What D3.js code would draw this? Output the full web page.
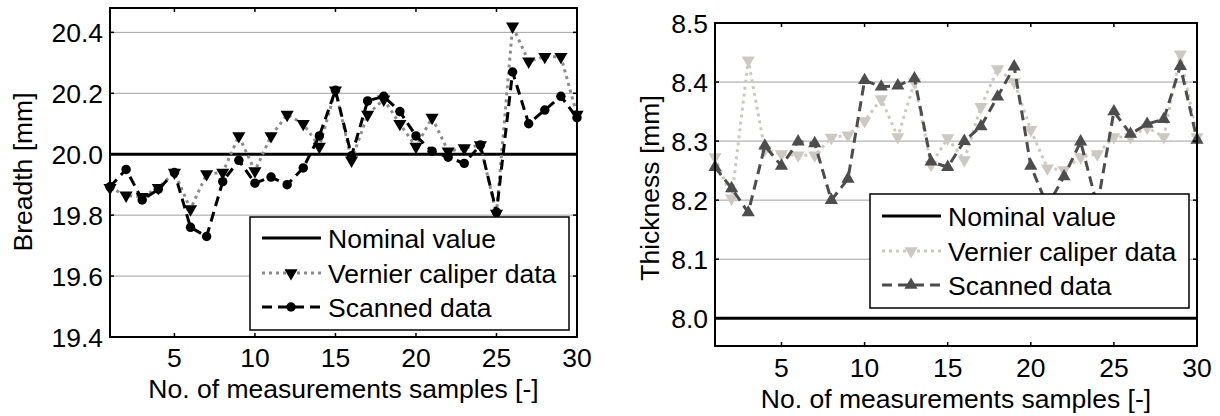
<!DOCTYPE html>
<html>
<head>
<meta charset="utf-8">
<script src="https://cdn.jsdelivr.net/npm/d3@7"></script>
<style>
  body { margin: 0; background: #fff; }
  text { font-family: "Liberation Sans", Arial, sans-serif; fill: #000; }
</style>
</head>
<body>
<div id="chart"></div>
<script>
// sample index 1..30
const samples = d3.range(1, 31);

// breadth [mm]
const breadthNominal = 20.0;
const breadthVernier = [19.89, 19.865, 19.86, 19.89, 19.94, 19.82, 19.935, 19.94, 20.06, 19.945,
  20.06, 20.13, 20.10, 20.025, 20.21, 19.98, 20.13, 20.18, 20.10, 20.025,
  20.12, 20.01, 20.02, 20.03, 19.805, 20.42, 20.305, 20.32, 20.32, 20.13];
const breadthScanned = [19.893, 19.95, 19.85, 19.885, 19.94, 19.76, 19.73, 19.91, 19.98, 19.905,
  19.925, 19.90, 19.955, 20.06, 20.21, 19.995, 20.175, 20.19, 20.14, 20.06,
  20.01, 19.99, 19.97, 20.03, 19.81, 20.27, 20.10, 20.145, 20.19, 20.12];
const breadthTicks = [19.4, 19.6, 19.8, 20.0, 20.2, 20.4];

// thickness [mm]
const thickNominal = 8.0;
const thickVernier = [8.273, 8.203, 8.437, 8.285, 8.278, 8.276, 8.276, 8.306, 8.31, 8.334,
  8.371, 8.307, 8.40, 8.26, 8.305, 8.268, 8.358, 8.422, 8.40, 8.319,
  8.254, 8.251, 8.273, 8.278, 8.307, 8.307, 8.323, 8.307, 8.447, 8.307];
const thickScanned = [8.256, 8.22, 8.179, 8.292, 8.258, 8.299, 8.296, 8.20, 8.236, 8.403,
  8.392, 8.394, 8.406, 8.265, 8.256, 8.30, 8.325, 8.375, 8.426, 8.258,
  8.19, 8.24, 8.299, 8.19, 8.35, 8.312, 8.329, 8.337, 8.427, 8.302];
const thickTicks = [8.0, 8.1, 8.2, 8.3, 8.4, 8.5];

const xTicks = [5, 10, 15, 20, 25, 30];
const legendLabels = ["Nominal value", "Vernier caliper data", "Scanned data"];

const fs = 26.5;

const svg = d3.select("#chart").append("svg")
  .attr("width", 1220)
  .attr("height", 416);

function drawPanel(p) {
  const x = d3.scaleLinear().domain([1, 30]).range([p.left, p.right]);
  const y = d3.scaleLinear().domain(p.yDomain).range([p.bottom, p.top]);
  const g = svg.append("g");

  // grid
  g.selectAll(".grid").data(p.yTicks.filter(t => t > p.yDomain[0] && t < p.yDomain[1]))
    .enter().append("line")
    .attr("x1", p.left).attr("x2", p.right)
    .attr("y1", d => y(d)).attr("y2", d => y(d))
    .attr("stroke", "#a0a0a0").attr("stroke-width", 1);

  // nominal
  g.append("line")
    .attr("x1", p.left).attr("x2", p.right)
    .attr("y1", y(p.nominal)).attr("y2", y(p.nominal))
    .attr("stroke", "#000").attr("stroke-width", 3);

  const line = d3.line().x((d, i) => x(samples[i])).y(d => y(d));

  // vernier
  g.append("path").datum(p.vernier).attr("d", line)
    .attr("fill", "none").attr("stroke", p.vLine).attr("stroke-width", 3)
    .attr("stroke-dasharray", "3,4");
  g.selectAll(".vm").data(p.vernier).enter().append("path")
    .attr("d", d3.symbol().type(d3.symbolTriangle).size(75))
    .attr("transform", (d, i) => `translate(${x(samples[i])},${y(d)}) rotate(180)`)
    .attr("fill", p.vMark);

  // scanned
  g.append("path").datum(p.scanned).attr("d", line)
    .attr("fill", "none").attr("stroke", p.sLine).attr("stroke-width", 3)
    .attr("stroke-dasharray", "10,6");
  g.selectAll(".sm").data(p.scanned).enter().append("path")
    .attr("d", d3.symbol().type(p.sSymbol).size(p.sSize))
    .attr("transform", (d, i) => `translate(${x(samples[i])},${y(d)})`)
    .attr("fill", p.sLine);

  // axes box
  g.append("rect")
    .attr("x", p.left).attr("y", p.top)
    .attr("width", p.right - p.left).attr("height", p.bottom - p.top)
    .attr("fill", "none").attr("stroke", "#000").attr("stroke-width", 2);

  // inner ticks
  const tl = 4;
  xTicks.forEach(t => {
    g.append("line").attr("x1", x(t)).attr("x2", x(t)).attr("y1", p.bottom).attr("y2", p.bottom - tl)
      .attr("stroke", "#000").attr("stroke-width", 1.5);
    g.append("line").attr("x1", x(t)).attr("x2", x(t)).attr("y1", p.top).attr("y2", p.top + tl)
      .attr("stroke", "#000").attr("stroke-width", 1.5);
  });
  p.yTicks.forEach(t => {
    g.append("line").attr("x1", p.left).attr("x2", p.left + tl).attr("y1", y(t)).attr("y2", y(t))
      .attr("stroke", "#000").attr("stroke-width", 1.5);
    g.append("line").attr("x1", p.right).attr("x2", p.right - tl).attr("y1", y(t)).attr("y2", y(t))
      .attr("stroke", "#000").attr("stroke-width", 1.5);
  });

  // tick labels
  g.selectAll(".xl").data(xTicks).enter().append("text")
    .attr("x", d => x(d)).attr("y", p.xLabelY)
    .attr("text-anchor", "middle").attr("font-size", fs)
    .text(d => d);
  g.selectAll(".yl").data(p.yTicks).enter().append("text")
    .attr("x", p.left - 7).attr("y", d => y(d)).attr("dy", "0.36em")
    .attr("text-anchor", "end").attr("font-size", fs)
    .text(d => d.toFixed(1));

  // axis titles
  g.append("text")
    .attr("x", (p.left + p.right) / 2).attr("y", p.xTitleY)
    .attr("text-anchor", "middle").attr("font-size", fs)
    .text("No. of measurements samples [-]");
  g.append("text")
    .attr("transform", `translate(${p.yTitleX},${p.yTitleMid}) rotate(-90)`)
    .attr("text-anchor", "middle").attr("font-size", fs)
    .text(p.yTitle);

  // legend
  const lg = svg.append("g").attr("transform", `translate(${p.legX},${p.legY})`);
  lg.append("rect").attr("width", p.legW).attr("height", p.legH)
    .attr("fill", "#fff").attr("stroke", "#000").attr("stroke-width", 1.5);
  const rows = [p.legRow0, p.legRow0 + 35, p.legRow0 + 69];
  const styles = [
    { stroke: "#000", dash: null },
    { stroke: p.vLine, dash: "3,4" },
    { stroke: p.sLine, dash: "10,6" }
  ];
  rows.forEach((ry, i) => {
    lg.append("line").attr("x1", 12).attr("x2", 71).attr("y1", ry).attr("y2", ry)
      .attr("stroke", styles[i].stroke).attr("stroke-width", 3)
      .attr("stroke-dasharray", styles[i].dash);
    lg.append("text").attr("x", 78).attr("y", ry).attr("dy", "0.36em")
      .attr("font-size", fs).text(legendLabels[i]);
  });
  lg.append("path").attr("d", d3.symbol().type(d3.symbolTriangle).size(75))
    .attr("transform", `translate(41,${rows[1]}) rotate(180)`).attr("fill", p.vMark);
  lg.append("path").attr("d", d3.symbol().type(p.sSymbol).size(p.sSize))
    .attr("transform", `translate(41,${rows[2]})`).attr("fill", p.sLine);
}

drawPanel({
  left: 110, right: 577, top: 8, bottom: 337,
  yDomain: [19.4, 20.48], yTicks: breadthTicks, nominal: breadthNominal,
  vernier: breadthVernier, scanned: breadthScanned,
  vLine: "#8c8c8c", vMark: "#000", sLine: "#000", sSymbol: d3.symbolCircle, sSize: 70,
  xLabelY: 367, xTitleY: 398, yTitleX: 32, yTitleMid: 172, yTitle: "Breadth [mm]",
  legX: 250, legY: 217, legW: 319, legH: 113, legRow0: 21
});

drawPanel({
  left: 715, right: 1197, top: 23, bottom: 346,
  yDomain: [7.953, 8.5], yTicks: thickTicks, nominal: thickNominal,
  vernier: thickVernier, scanned: thickScanned,
  vLine: "#cdc9c2", vMark: "#cdc9c2", sLine: "#4d4d4d", sSymbol: d3.symbolTriangle, sSize: 75,
  xLabelY: 377, xTitleY: 408, yTitleX: 659, yTitleMid: 188, yTitle: "Thickness [mm]",
  legX: 870, legY: 194, legW: 319, legH: 114, legRow0: 22
});
</script>
</body>
</html>
